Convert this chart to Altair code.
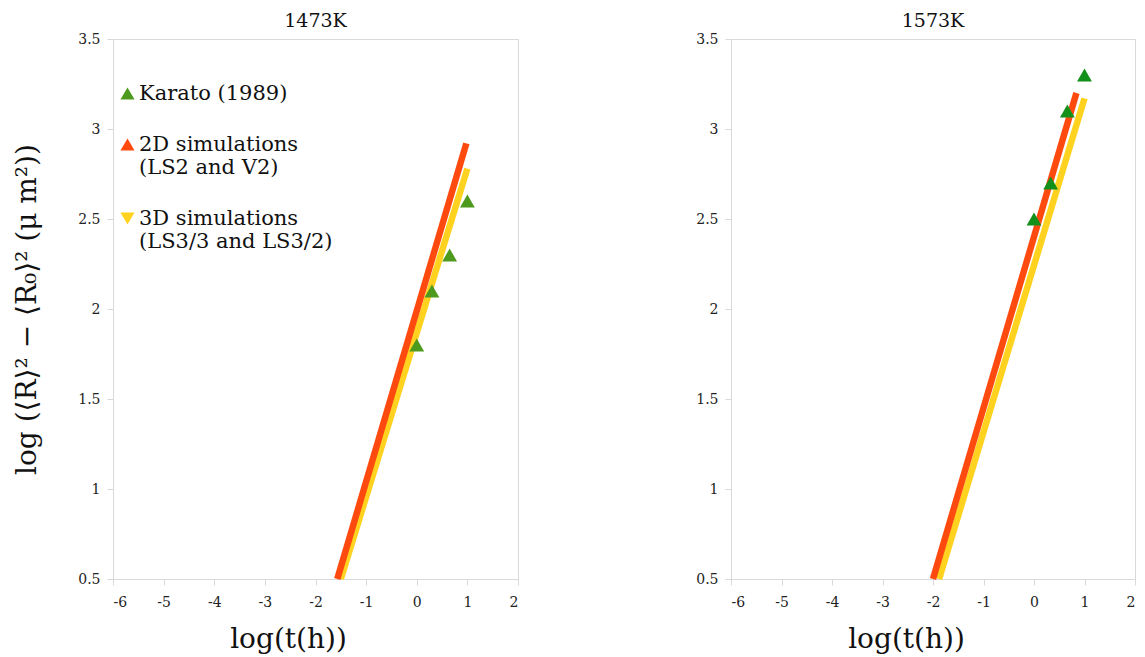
import altair as alt
import pandas as pd

# ---- data ----
series_names = ["Karato (1989)", "2D simulations", "3D simulations"]

# 1473K panel
k1473_logt = [0.0, 0.3, 0.65, 1.0]
k1473_val = [1.8, 2.1, 2.3, 2.6]
sim2d_1473_x = [-1.57, 0.98]
sim2d_1473_y = [0.5, 2.92]
sim3d_1473_x = [-1.5, 1.0]
sim3d_1473_y = [0.5, 2.78]

# 1573K panel
k1573_logt = [0.0, 0.33, 0.66, 1.0]
k1573_val = [2.5, 2.7, 3.1, 3.3]
sim2d_1573_x = [-2.0, 0.84]
sim2d_1573_y = [0.5, 3.2]
sim3d_1573_x = [-1.88, 1.0]
sim3d_1573_y = [0.5, 3.17]

x_ticks = [-6, -5, -4, -3, -2, -1, 0, 1, 2]
y_ticks = [0.5, 1.0, 1.5, 2.0, 2.5, 3.0, 3.5]

RED = "#ff4a0f"
YELLOW = "#ffd21f"
GREEN_L = "#4e9a1e"
GREEN_R = "#12901a"
SERIF = "DejaVu Serif"

x_title = "log(t(h))"
y_title = "log (⟨R⟩² − ⟨R₀⟩² (μ m²))"


def panel(title, kx, ky, rx, ry, yx, yy, green, show_ytitle, show_legend, w):
    xs = alt.Scale(domain=[-6, 2], nice=False, zero=False)
    ys = alt.Scale(domain=[0.5, 3.5], nice=False, zero=False)
    xaxis = alt.Axis(values=x_ticks, title=x_title, labelExpr="datum.value + ''",
                     titleX=175)
    yaxis = alt.Axis(values=y_ticks, format=".1~f",
                     title=y_title if show_ytitle else None)

    d3 = pd.DataFrame({"x": yx, "y": yy})
    d2 = pd.DataFrame({"x": rx, "y": ry})
    dk = pd.DataFrame({"x": kx, "y": ky, "series": [series_names[0]] * len(kx)})

    l3 = alt.Chart(d3).mark_line(strokeWidth=6.5, color=YELLOW, strokeCap="butt").encode(
        x=alt.X("x:Q", scale=xs, axis=xaxis), y=alt.Y("y:Q", scale=ys, axis=yaxis))
    l2 = alt.Chart(d2).mark_line(strokeWidth=6.5, color=RED, strokeCap="butt").encode(
        x=alt.X("x:Q", scale=xs, axis=xaxis), y=alt.Y("y:Q", scale=ys, axis=yaxis))

    if show_legend:
        color = alt.Color("series:N",
                          scale=alt.Scale(domain=series_names, range=[green, RED, YELLOW]),
                          legend=alt.Legend(
                              title=None, orient="none", legendX=4, legendY=44,
                              labelFont=SERIF, labelFontSize=21, labelColor="#111",
                              symbolSize=200, rowPadding=29, labelOffset=1,
                              labelLimit=500, labelBaseline="middle",
                              labelExpr="datum.label == '2D simulations' ? ['2D simulations', '(LS2 and V2)'] : datum.label == '3D simulations' ? ['3D simulations', '(LS3/3 and LS3/2)'] : datum.label"))
        shape = alt.Shape("series:N",
                          scale=alt.Scale(domain=series_names,
                                          range=["triangle-up", "triangle-up", "triangle-down"]),
                          legend=None)
        pts = alt.Chart(dk).mark_point(filled=True, size=220, opacity=1).encode(
            x=alt.X("x:Q", scale=xs, axis=xaxis), y=alt.Y("y:Q", scale=ys, axis=yaxis),
            color=color, shape=shape)
    else:
        pts = alt.Chart(dk).mark_point(filled=True, size=220, opacity=1, shape="triangle-up",
                                       color=green).encode(
            x=alt.X("x:Q", scale=xs, axis=xaxis), y=alt.Y("y:Q", scale=ys, axis=yaxis))

    return alt.layer(l3, l2, pts).properties(
        width=w, height=540,
        title=alt.TitleParams(title, font=SERIF, fontSize=19, fontWeight="normal",
                              color="#111", offset=1))


left = panel("1473K", k1473_logt, k1473_val, sim2d_1473_x, sim2d_1473_y,
             sim3d_1473_x, sim3d_1473_y, GREEN_L, True, True, 405)
right = panel("1573K", k1573_logt, k1573_val, sim2d_1573_x, sim2d_1573_y,
              sim3d_1573_x, sim3d_1573_y, GREEN_R, False, False, 404)

chart = alt.hconcat(left, right, spacing=176).configure_view(
    stroke="#d9d9d9", strokeWidth=1
).configure_axis(
    grid=False, domainColor="#d9d9d9", tickColor="#d9d9d9", tickSize=6,
    labelFont=SERIF, labelFontSize=14, labelColor="#222",
    titleFont=SERIF, titleFontSize=28, titleFontWeight="normal", titleColor="#111"
).configure_axisY(titlePadding=36, labelPadding=7).configure_axisX(
    titlePadding=16, labelPadding=10).properties(
    padding={"left": 5, "top": 3, "right": 0, "bottom": 0})

chart.save("out.html", embed_options={"renderer": "svg", "actions": False})
